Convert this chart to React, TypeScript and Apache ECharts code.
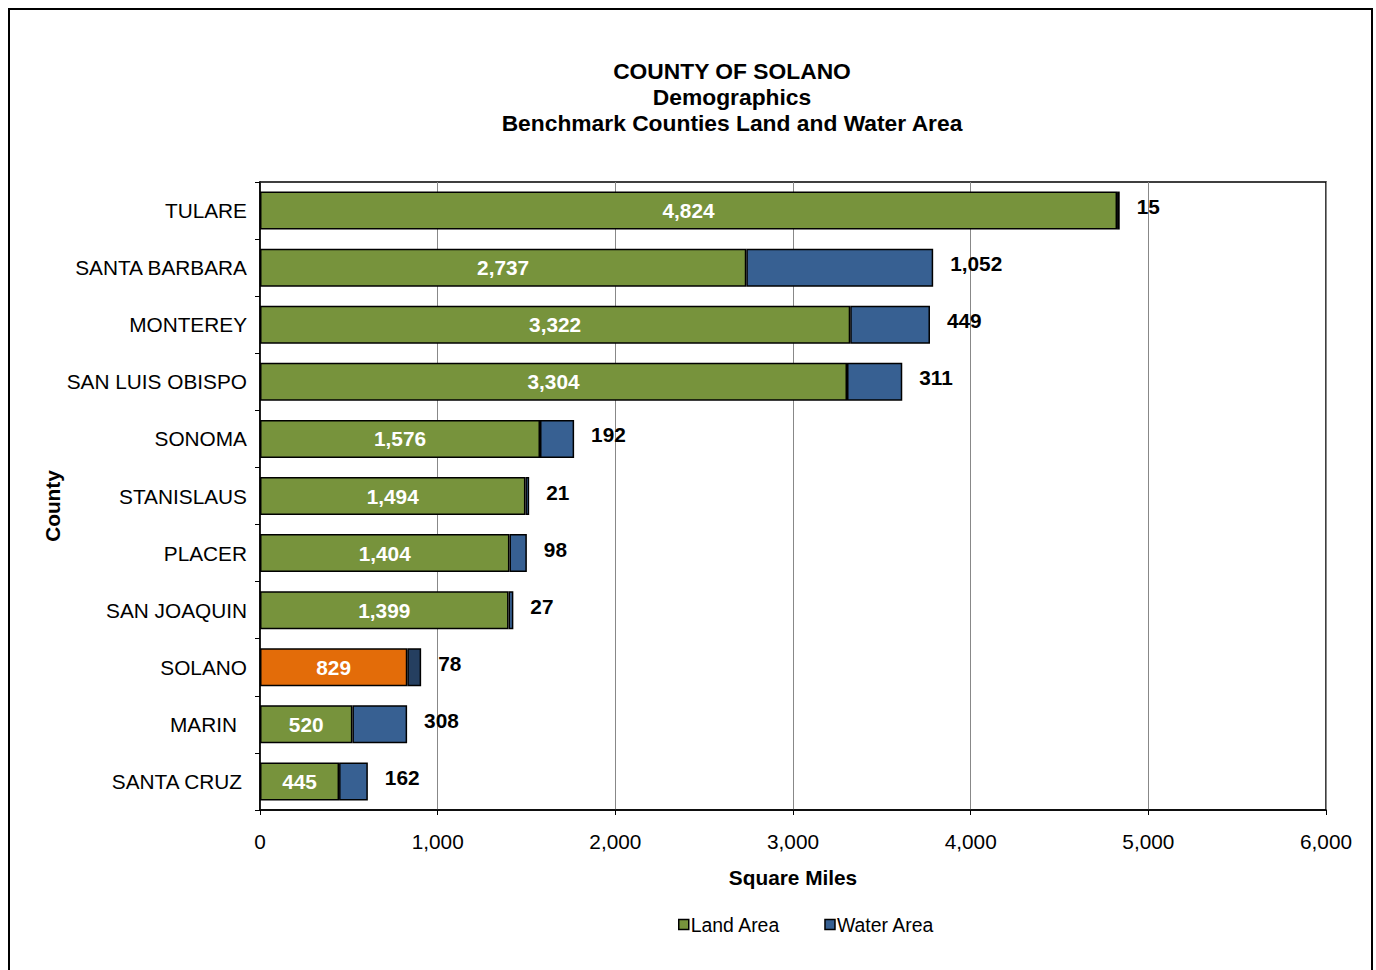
import React, { useEffect, useRef } from 'react';
import * as echarts from 'echarts';

const counties = ['TULARE', 'SANTA BARBARA', 'MONTEREY', 'SAN LUIS OBISPO', 'SONOMA', 'STANISLAUS', 'PLACER', 'SAN JOAQUIN', 'SOLANO', 'MARIN', 'SANTA CRUZ'];
const landArea = [4824, 2737, 3322, 3304, 1576, 1494, 1404, 1399, 829, 520, 445];
const waterArea = [15, 1052, 449, 311, 192, 21, 98, 27, 78, 308, 162];
const titleLines = ['COUNTY OF SOLANO', 'Demographics', 'Benchmark Counties Land and Water Area'];
const highlightCounty = 'SOLANO';
const xMin = 0;
const xMax = 6000;
const xInterval = 1000;

const FONT = '"Liberation Sans", Arial, sans-serif';
const FS = 20.8;
const LAND = '#77933C';
const WATER = '#376092';
const LAND_HL = '#E36C09';
const WATER_HL = '#253F60';

const fmt = (v: number) => v.toLocaleString('en-US');

const labelPad: Record<string, number> = { MARIN: 10, 'SANTA CRUZ': 5 };

export default function App() {
  const ref = useRef<HTMLDivElement>(null);
  useEffect(() => {
    if (!ref.current) return;
    const chart = echarts.init(ref.current, undefined, { renderer: 'svg' });
    chart.setOption({
      animation: false,
      backgroundColor: '#fff',
      textStyle: { fontFamily: FONT },
      title: {
        text: titleLines.join('\n'),
        left: 727,
        textAlign: 'center',
        top: 53,
        textStyle: { fontFamily: FONT, fontSize: 22.8, fontWeight: 'bold', color: '#000', lineHeight: 26 },
      },
      graphic: [
        {
          type: 'rect',
          shape: { x: 9, y: 9, width: 1363, height: 980 },
          style: { fill: 'none', stroke: '#000', lineWidth: 2 },
          silent: true,
        },
        {
          type: 'text',
          x: 52,
          y: 506,
          rotation: Math.PI / 2,
          style: {
            text: 'County',
            fontFamily: FONT,
            fontSize: FS,
            fontWeight: 'bold',
            fill: '#000',
            align: 'center',
            verticalAlign: 'middle',
          },
          silent: true,
        },
      ],
      legend: {
        bottom: 31,
        left: 673,
        itemWidth: 10,
        itemHeight: 10,
        itemGap: 44,
        icon: 'rect',
        textStyle: { fontFamily: FONT, fontSize: 19.4, color: '#000', padding: [0, 0, 0, -3] },
        data: [
          { name: 'Land Area', itemStyle: { color: LAND, borderColor: '#000', borderWidth: 1.5 } },
          { name: 'Water Area', itemStyle: { color: WATER, borderColor: '#000', borderWidth: 1.5 } },
        ],
      },
      grid: {
        left: 260,
        top: 182,
        width: 1066,
        height: 628,
        show: true,
        borderColor: '#000',
        borderWidth: 1.5,
        containLabel: false,
      },
      xAxis: {
        type: 'value',
        min: xMin,
        max: xMax,
        interval: xInterval,
        name: 'Square Miles',
        nameLocation: 'middle',
        nameGap: 57,
        nameTextStyle: { fontFamily: FONT, fontSize: FS, fontWeight: 'bold', color: '#000' },
        axisLine: { show: true, lineStyle: { color: '#000', width: 1.5 } },
        axisTick: { show: true, length: 5, lineStyle: { color: '#000' } },
        axisLabel: { fontFamily: FONT, fontSize: FS, color: '#000', margin: 21, formatter: (v: number) => fmt(v) },
        splitLine: { show: true, lineStyle: { color: '#888', width: 1 } },
      },
      yAxis: {
        type: 'category',
        inverse: true,
        data: counties.map((c) => (labelPad[c] ? { value: c, textStyle: { padding: [0, labelPad[c], 0, 0] } } : c)),
        axisLine: { show: true, lineStyle: { color: '#000', width: 1.5 } },
        axisTick: { show: true, length: 5, lineStyle: { color: '#000' } },
        axisLabel: { fontFamily: FONT, fontSize: FS, color: '#000', margin: 13 },
        splitLine: { show: false },
      },
      series: [
        {
          name: 'Land Area',
          type: 'bar',
          stack: 'total',
          barWidth: 38,
          itemStyle: { color: LAND, borderColor: '#000', borderWidth: 1.5 },
          data: landArea.map((v, i) => ({
            value: v,
            itemStyle: { color: counties[i] === highlightCounty ? LAND_HL : LAND },
          })),
          label: {
            show: true,
            position: 'inside',
            color: '#fff',
            fontFamily: FONT,
            fontSize: FS,
            fontWeight: 'bold',
            formatter: (p: any) => fmt(p.value),
          },
        },
        {
          name: 'Water Area',
          type: 'bar',
          stack: 'total',
          barWidth: 38,
          itemStyle: { color: WATER, borderColor: '#000', borderWidth: 1.5 },
          data: waterArea.map((v, i) => ({
            value: v,
            itemStyle: { color: counties[i] === highlightCounty ? WATER_HL : WATER },
          })),
          label: {
            show: true,
            position: 'right',
            distance: 17,
            offset: [0, -4],
            color: '#000',
            fontFamily: FONT,
            fontSize: FS,
            fontWeight: 'bold',
            formatter: (p: any) => fmt(p.value),
          },
        },
      ],
    });
    return () => chart.dispose();
  }, []);
  return (
    <div
      ref={ref}
      style={{ position: 'absolute', left: 0, top: 0, width: 1376, height: 970 }}
    />
  );
}
